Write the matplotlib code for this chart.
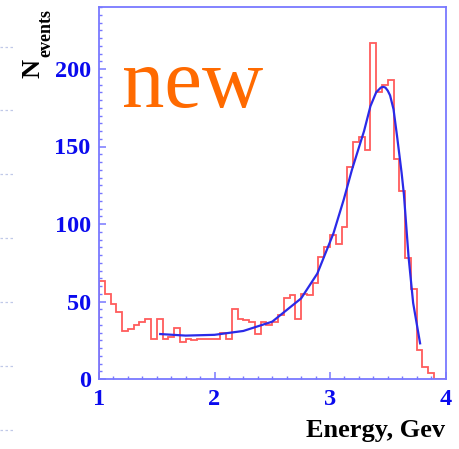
import numpy as np
import matplotlib
matplotlib.use("Agg")
import matplotlib.pyplot as plt
from matplotlib.ticker import MultipleLocator
from matplotlib.lines import Line2D

# ---------------- data ----------------
bin_lo, bin_hi, n_bins = 1.0, 4.0, 60
counts = [63, 55, 48.5, 43, 31, 32, 35, 37, 39, 26,
          38.5, 26, 27, 33, 24, 26, 25, 26, 26, 26,
          26, 30, 26, 45, 39, 38, 37, 29, 37, 35,
          37, 41, 52, 54, 39, 55, 54, 62, 79, 85,
          93, 87, 98, 137, 153, 156, 148, 217, 185, 190,
          193, 142, 121, 78, 58, 19, 8, 4, 0, 0]

fit_x = [1.53, 1.75, 2.0, 2.25, 2.5, 2.65, 2.75, 2.89, 3.03, 3.12, 3.19,
         3.295, 3.35, 3.40, 3.44, 3.46, 3.48, 3.50, 3.52, 3.55, 3.58,
         3.60, 3.62, 3.64, 3.68, 3.72, 3.78]
fit_y = [29, 28, 28.5, 31, 37, 46, 52, 68, 94, 116, 135,
         160, 176, 185, 188, 188.5, 188, 186, 183, 174, 157,
         145, 133, 119, 79, 49, 23]

xticks = [1, 2, 3, 4]
yticks = [0, 50, 100, 150, 200]

# ---------------- figure ----------------
W, H = 459, 449
fig = plt.figure(figsize=(W / 100, H / 100), dpi=100)
ax = fig.add_axes([99 / W, 1 - 379 / H, (445.5 - 99) / W, (379 - 7) / H])

serif = ["Liberation Serif", "DejaVu Serif"]
frame_c = "#7878ff"
tick_lab_c = "#0a0aee"

edges = np.linspace(bin_lo, bin_hi, n_bins + 1)
ax.stairs(counts, edges, baseline=0, color="#ff4a4a", lw=1.3, alpha=0.9, zorder=2)
ax.plot(fit_x, fit_y, color="#2a2ae8", lw=1.6, zorder=3)

ax.set_xlim(1, 4)
ax.set_ylim(0, 240)
ax.set_xticks(xticks)
ax.set_yticks(yticks)
ax.xaxis.set_minor_locator(MultipleLocator(0.125))
ax.yaxis.set_minor_locator(MultipleLocator(5))
ax.tick_params(axis="both", which="major", direction="in", length=5, width=1.1,
               color=frame_c, labelcolor=tick_lab_c)
ax.tick_params(axis="both", which="minor", direction="in", length=2.5, width=1.0,
               color=frame_c)
ax.tick_params(axis="x", which="major", pad=7)
ax.tick_params(axis="y", which="major", pad=6)
for lab in ax.get_xticklabels() + ax.get_yticklabels():
    lab.set_fontfamily(serif)
    lab.set_fontweight("bold")
    lab.set_fontsize(17.5)
for s in ax.spines.values():
    s.set_color(frame_c)
    s.set_linewidth(1.3)

# "new" label
fig.text(122 / W, 1 - 107 / H, "new", color="#ff6a00", fontsize=61,
         family=serif, ha="left", va="baseline")

# y label N_events (rotated)
fig.text(44 / W, 1 - 78 / H, "N", rotation=90, fontsize=19, fontweight="bold",
         family=serif, color="black", ha="right", va="bottom")
fig.text(54 / W, 1 - 57 / H, "events", rotation=90, fontsize=13, fontweight="bold",
         family=serif, color="black", ha="right", va="bottom")

# x label
fig.text(445 / W, 1 - 437 / H, "Energy, Gev", fontsize=19, fontweight="bold",
         family=serif, color="black", ha="right", va="baseline")

# faint background dashes on the left margin
for yy in [47, 110, 174, 238, 302, 366, 430]:
    fig.add_artist(Line2D([0 / W, 15 / W], [1 - yy / H, 1 - yy / H],
                          transform=fig.transFigure, color="#c0c9e8",
                          lw=0.9, ls=(0, (2, 2))))

fig.savefig("out.png", dpi=100)
